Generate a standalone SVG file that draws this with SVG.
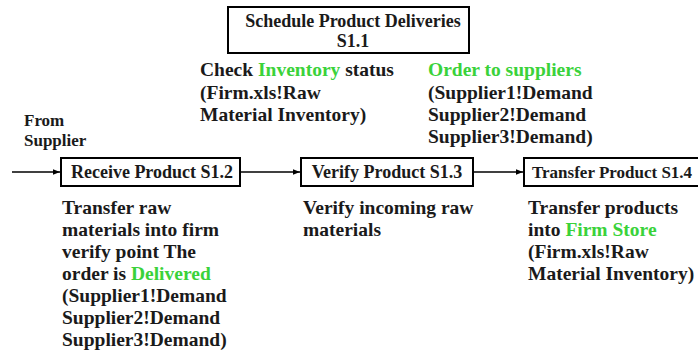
<svg xmlns="http://www.w3.org/2000/svg" width="698" height="352" viewBox="0 0 698 352">
<style>
text{font-family:Liberation Serif,Times New Roman,Times,DejaVu Serif,serif;font-weight:bold;fill:#1a1a1a}
.box{fill:#fff;stroke:#000;stroke-width:2}
.bt{font-size:18px}
.d{font-size:19.5px}
.s{font-size:17px}
.g{fill:#3ad23a}
.c{stroke:#000;stroke-width:1.5;fill:none}
</style>
<defs>
<marker id="ah" viewBox="0 0 10 10" refX="10" refY="5" markerWidth="7" markerHeight="7" markerUnits="userSpaceOnUse" orient="auto">
<path d="M0,1 L10,5 L0,9 z" fill="#000"/>
</marker>
</defs>
<rect width="698" height="352" fill="#fff"/>
<g id="n-schedule">
<rect class="box" x="228" y="7" width="241" height="46"/>
<text class="bt" x="353" y="27" text-anchor="middle">Schedule Product Deliveries</text>
<text class="bt" x="353" y="47" text-anchor="middle">S1.1</text>
</g>
<g id="t-check">
<text class="d" x="200" y="76">Check <tspan class="g">Inventory</tspan> status</text>
<text class="d" x="200" y="99">(Firm.xls!Raw</text>
<text class="d" x="200" y="121">Material Inventory)</text>
</g>
<g id="t-order">
<text class="d g" x="428" y="76">Order to suppliers</text>
<text class="d" x="428" y="99">(Supplier1!Demand</text>
<text class="d" x="428" y="121">Supplier2!Demand</text>
<text class="d" x="428" y="143">Supplier3!Demand)</text>
</g>
<g id="t-from">
<text class="s" x="24" y="126">From</text>
<text class="s" x="24" y="146">Supplier</text>
</g>
<g id="n-receive">
<rect class="box" x="61" y="158" width="179" height="28"/>
<text class="bt" x="152" y="178" text-anchor="middle">Receive Product S1.2</text>
</g>
<g id="n-verify">
<rect class="box" x="301" y="158" width="172" height="28"/>
<text class="bt" x="387" y="178" text-anchor="middle">Verify Product S1.3</text>
</g>
<g id="n-transfer">
<rect class="box" x="524" y="158" width="180" height="28"/>
<text x="532" y="178" font-size="17px">Transfer Product S1.4</text>
</g>
<g id="connectors">
<line class="c" x1="12" y1="172" x2="60" y2="172" marker-end="url(#ah)"/>
<line class="c" x1="240" y1="172" x2="300" y2="172" marker-end="url(#ah)"/>
<line class="c" x1="473" y1="172" x2="523" y2="172" marker-end="url(#ah)"/>
</g>
<g id="t-receive">
<text class="d" x="62" y="214">Transfer raw</text>
<text class="d" x="62" y="236">materials into firm</text>
<text class="d" x="62" y="258">verify point The</text>
<text class="d" x="62" y="280">order is <tspan class="g">Delivered</tspan></text>
<text class="d" x="62" y="302">(Supplier1!Demand</text>
<text class="d" x="62" y="324">Supplier2!Demand</text>
<text class="d" x="62" y="346">Supplier3!Demand)</text>
</g>
<g id="t-verify">
<text class="d" x="303" y="214">Verify incoming raw</text>
<text class="d" x="303" y="236">materials</text>
</g>
<g id="t-transfer">
<text class="d" x="528" y="214">Transfer products</text>
<text class="d" x="528" y="236">into <tspan class="g">Firm Store</tspan></text>
<text class="d" x="528" y="258">(Firm.xls!Raw</text>
<text class="d" x="528" y="280">Material Inventory)</text>
</g>
</svg>
